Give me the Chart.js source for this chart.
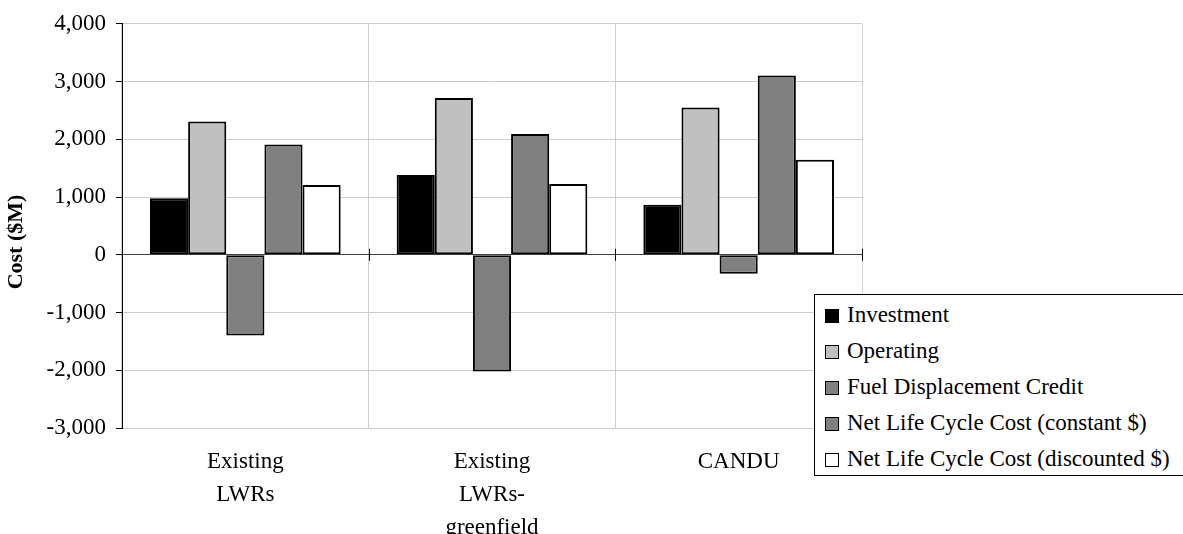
<!DOCTYPE html>
<html lang="en">
<head>
    <meta charset="UTF-8">
    <title>Cost ($M)</title>
    <script src="https://cdn.jsdelivr.net/npm/chart.js"></script>
    <style>
        html, body { margin: 0; padding: 0; background: white; }
        #wrap { position: relative; width: 1183px; height: 534px; overflow: hidden; }
        #legend {
            position: absolute; left: 814px; top: 294px; width: 372px; height: 182px;
            border: 1px solid #000; background: white; box-sizing: border-box;
            font-family: "Liberation Serif", "DejaVu Serif", serif; font-size: 23px; color: #000;
            padding-top: 2px;
        }
        .item { height: 36px; line-height: 36px; padding-left: 10px; white-space: nowrap; }
        .box { display: inline-block; width: 12px; height: 12px; border: 1px solid #000; margin-right: 8px; vertical-align: -1px; }
    </style>
</head>
<body>
<div id="wrap">
    <canvas id="costChart" width="1183" height="534"></canvas>
    <div id="legend"></div>
</div>
<script>
    const categories = [['Existing', 'LWRs'], ['Existing', 'LWRs-', 'greenfield'], ['CANDU']];
    const seriesNames = ['Investment', 'Operating', 'Fuel Displacement Credit', 'Net Life Cycle Cost (constant $)', 'Net Life Cycle Cost (discounted $)'];
    const investment = [980, 1380, 865];
    const operating = [2310, 2715, 2550];
    const fuelCredit = [-1400, -2020, -330];
    const netConstant = [1910, 2090, 3105];
    const netDiscounted = [1210, 1225, 1645];
    const colors = ['#000000', '#c0c0c0', '#808080', '#808080', '#ffffff'];

    const values = [investment, operating, fuelCredit, netConstant, netDiscounted];
    const fontFamily = '"Liberation Serif", "DejaVu Serif", serif';
    const font = { family: fontFamily, size: 23 };

    // little tick marks on the zero line between categories + axis title
    const extras = {
        id: 'extras',
        afterDraw(chart) {
            const { ctx, scales: { x, y } } = chart;
            const y0 = y.getPixelForValue(0);
            ctx.save();
            ctx.strokeStyle = '#000';
            ctx.lineWidth = 1;
            for (let i = 1; i <= categories.length; i++) {
                const px = Math.round(x.left + (x.right - x.left) * i / categories.length) + 0.5;
                ctx.beginPath();
                ctx.moveTo(px, y0 - 6);
                ctx.lineTo(px, y0 + 6);
                ctx.stroke();
            }
            ctx.translate(16, 242);
            ctx.rotate(-Math.PI / 2);
            ctx.font = 'bold 22px ' + fontFamily;
            ctx.fillStyle = '#000';
            ctx.textAlign = 'center';
            ctx.textBaseline = 'middle';
            ctx.fillText('Cost ($M)', 0, 0);
            ctx.restore();
        }
    };

    new Chart(document.getElementById('costChart'), {
        type: 'bar',
        data: {
            labels: categories,
            datasets: seriesNames.map((name, i) => ({
                label: name,
                data: values[i],
                backgroundColor: colors[i],
                borderColor: '#000',
                borderWidth: 2,
                borderSkipped: false
            }))
        },
        options: {
            responsive: false,
            animation: false,
            layout: { padding: { left: 0, right: 321, top: 20, bottom: 0 } },
            categoryPercentage: 0.773,
            barPercentage: 1.0,
            plugins: { legend: { display: false }, tooltip: { enabled: false } },
            scales: {
                x: {
                    grid: { offset: true, color: '#d0d0d0', drawTicks: false },
                    border: { display: false },
                    ticks: { color: '#000', font: { ...font, lineHeight: 1.42 }, padding: 18, maxRotation: 0 },
                    afterFit(scale) { scale.height = 106; }
                },
                y: {
                    min: -3000,
                    max: 4000,
                    ticks: {
                        stepSize: 500,
                        color: '#000',
                        font: font,
                        padding: 10,
                        callback: v => v % 1000 === 0 ? v.toLocaleString('en-US') : ''
                    },
                    grid: {
                        color: c => c.tick.value === 0 ? '#404040' : (c.tick.value % 1000 === 0 ? '#cccccc' : 'rgba(0,0,0,0)'),
                        tickColor: '#000',
                        tickLength: 6
                    },
                    border: { color: '#000', width: 1 },
                    afterFit(scale) { scale.width = 122; }
                }
            }
        },
        plugins: [extras]
    });

    const legend = document.getElementById('legend');
    seriesNames.forEach((name, i) => {
        const row = document.createElement('div');
        row.className = 'item';
        row.innerHTML = '<span class="box" style="background:' + colors[i] + '"></span>' + name;
        legend.appendChild(row);
    });
</script>
</body>
</html>
